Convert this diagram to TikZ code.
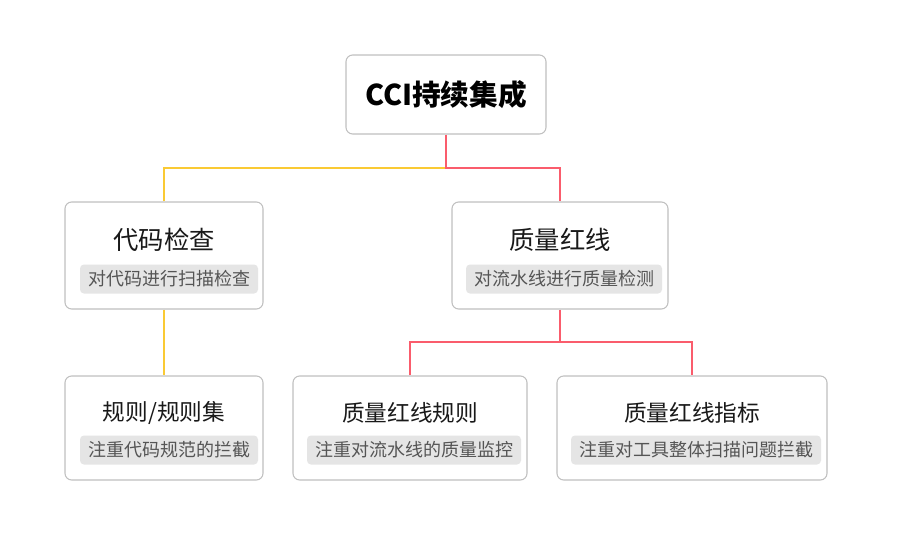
\documentclass[tikz,border=0pt]{standalone}
\usepackage{fontspec}
\setmainfont{Noto Sans CJK SC}
\usetikzlibrary{positioning}

\definecolor{lineyellow}{RGB}{250,202,52}
\definecolor{linered}{RGB}{250,92,108}
\definecolor{boxborder}{RGB}{192,192,192}
\definecolor{subfill}{RGB}{229,229,229}
\definecolor{subtext}{RGB}{85,85,85}

\begin{document}
\begin{tikzpicture}[
    x=0.75pt, y=-0.75pt,
    box/.style={rectangle, draw=boxborder, fill=white, rounded corners=5pt, line width=0.8pt},
    roottitle/.style={font=\fontsize{21.5}{24}\selectfont\bfseries, text=black},
    midtitle/.style={font=\fontsize{19}{21}\selectfont, text=black!90},
    lowtitle/.style={font=\fontsize{17}{19}\selectfont, text=black!90},
    sub/.style={rectangle, fill=subfill, rounded corners=3pt, text=subtext, font=\fontsize{13.5}{15}\selectfont, inner xsep=6pt, inner ysep=0pt, minimum height=21.75pt},
    yline/.style={draw=lineyellow, line width=2.2pt},
    rline/.style={draw=linered, line width=2.2pt}
]
    \useasboundingbox (0,0) rectangle (899,543);

    % Boxes
    \node [box, minimum width=150pt, minimum height=59.25pt] (root) at (446,94.5) {};
    \node [box, minimum width=148.5pt, minimum height=80.25pt] (check) at (164,255.5) {};
    \node [box, minimum width=162pt, minimum height=80.25pt] (redline) at (560,255.5) {};
    \node [box, minimum width=148.5pt, minimum height=78pt] (rules) at (164,428) {};
    \node [box, minimum width=175.5pt, minimum height=78pt] (rlrules) at (410,428) {};
    \node [box, minimum width=202.5pt, minimum height=78pt] (rlmetric) at (692,428) {};

    % Texts
    \node [roottitle] (roottext) at (root.center) {CCI持续集成};

    \node [midtitle] (checktitle) at (164,240) {代码检查};
    \node [sub] (checksub) at (169,279) {对代码进行扫描检查};
    \node [midtitle] (redlinetitle) at (560,240) {质量红线};
    \node [sub] (redlinesub) at (564,279) {对流水线进行质量检测};

    \node [lowtitle] (rulestitle) at (164,413) {规则/规则集};
    \node [sub] (rulessub) at (169,450) {注重代码规范的拦截};
    \node [lowtitle] (rlrulestitle) at (410,413) {质量红线规则};
    \node [sub] (rlrulessub) at (414,450) {注重对流水线的质量监控};
    \node [lowtitle] (rlmetrictitle) at (692,413) {质量红线指标};
    \node [sub] (rlmetricsub) at (696,450) {注重对工具整体扫描问题拦截};

    % Connections
    \coordinate (rootjoin) at (446,168);
    \coordinate (redjoin) at (560,342);
    \path [yline] (check.north) |- (rootjoin);
    \path [rline] (root.south) -- (rootjoin) -| (redline.north);
    \path [yline] (check.south) -- (rules.north);
    \path [rline] (redline.south) -- (redjoin);
    \path [rline] (rlrules.north) |- (redjoin) -| (rlmetric.north);

\end{tikzpicture}
\end{document}
